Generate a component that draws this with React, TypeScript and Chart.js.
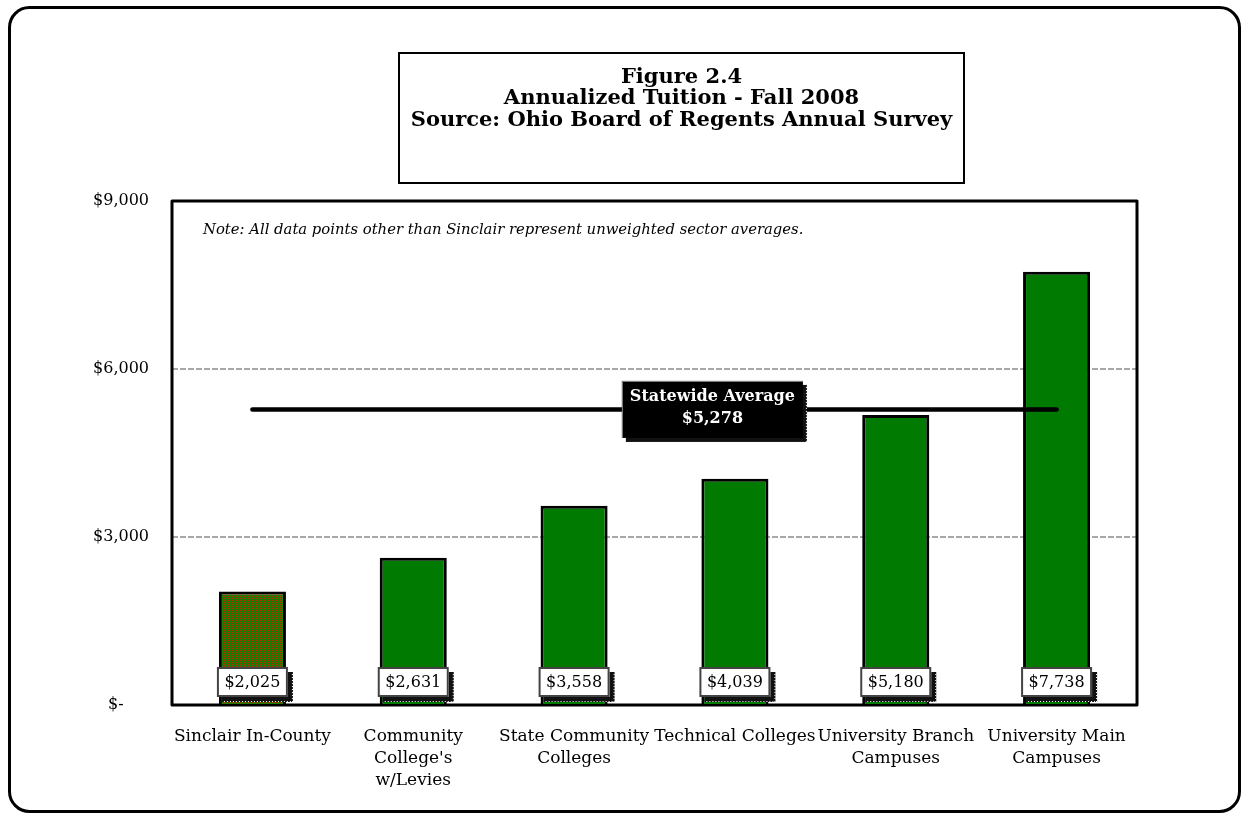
import React, { useEffect, useRef } from "react";
import { Chart, registerables } from "chart.js";

Chart.register(...registerables);

const categories: string[][] = [
  ["Sinclair In-County"],
  ["Community", "College's", "w/Levies"],
  ["State Community", "Colleges"],
  ["Technical Colleges"],
  ["University Branch", "Campuses"],
  ["University Main", "Campuses"],
];
const tuition = [2025, 2631, 3558, 4039, 5180, 7738];
const statewideAverage = 5278;
const yMin = 0;
const yMax = 9000;
const yStep = 3000;
const titleLines = [
  "Figure 2.4",
  "Annualized Tuition - Fall 2008",
  "Source: Ohio Board of Regents Annual Survey",
];
const noteText =
  "Note: All data points other than Sinclair represent unweighted sector averages.";
const averageLabel = ["Statewide Average", "$5,278"];

const SERIF = '"DejaVu Serif", "Liberation Serif", serif';

function fmt(v: number): string {
  if (v === 0) return "$-" + "\u00a0".repeat(5);
  return "$" + v.toLocaleString("en-US");
}

function makePattern(): CanvasPattern | string {
  const c = document.createElement("canvas");
  c.width = 4;
  c.height = 4;
  const g = c.getContext("2d");
  if (!g) return "#c82000";
  g.fillStyle = "#c82000";
  g.fillRect(0, 0, 4, 4);
  g.fillStyle = "#1f7a00";
  g.fillRect(2, 0, 1, 4);
  g.fillRect(0, 1, 1, 1);
  g.fillRect(0, 3, 1, 1);
  return g.createPattern(c, "repeat") || "#c82000";
}

const decor = {
  id: "decor",
  beforeDraw(chart: any) {
    const ctx: CanvasRenderingContext2D = chart.ctx;
    const { width, height } = chart;
    ctx.save();
    ctx.fillStyle = "#fff";
    ctx.fillRect(0, 0, width, height);
    // outer rounded frame
    ctx.strokeStyle = "#000";
    ctx.lineWidth = 3;
    ctx.beginPath();
    (ctx as any).roundRect(9.5, 7.5, width - 19, height - 12, 20);
    ctx.stroke();
    // title box
    ctx.lineWidth = 2;
    ctx.strokeRect(399, 53, 565, 130);
    ctx.fillStyle = "#000";
    ctx.font = `bold 21px ${SERIF}`;
    ctx.textAlign = "center";
    ctx.textBaseline = "middle";
    titleLines.forEach((t, i) => ctx.fillText(t, 681.5, 77.5 + i * 21.5));
    ctx.restore();
  },
  beforeDatasetsDraw(chart: any) {
    const ctx: CanvasRenderingContext2D = chart.ctx;
    const a = chart.chartArea;
    ctx.save();
    ctx.strokeStyle = "#000";
    ctx.lineWidth = 3;
    ctx.lineJoin = "round";
    ctx.strokeRect(a.left, a.top, a.right - a.left, a.bottom - a.top);
    ctx.fillStyle = "#000";
    ctx.font = `italic 14.8px ${SERIF}`;
    ctx.textAlign = "left";
    ctx.textBaseline = "middle";
    ctx.fillText(noteText, a.left + 31, a.top + 29);
    ctx.restore();
  },
  afterDatasetsDraw(chart: any) {
    const ctx: CanvasRenderingContext2D = chart.ctx;
    const a = chart.chartArea;
    const yScale = chart.scales.y;
    ctx.save();
    // statewide average label
    const cx = a.left + 0.56 * (a.right - a.left);
    const cy = yScale.getPixelForValue(statewideAverage);
    const bw = 181;
    const bh = 57;
    ctx.fillStyle = "#111";
    ctx.fillRect(cx - bw / 2 + 4, cy - bh / 2 + 4, bw, bh);
    ctx.strokeStyle = "#fff";
    ctx.lineWidth = 1;
    ctx.setLineDash([1, 2]);
    ctx.beginPath();
    ctx.moveTo(cx + bw / 2 + 3.5, cy - bh / 2 + 6);
    ctx.lineTo(cx + bw / 2 + 3.5, cy + bh / 2 + 4);
    ctx.stroke();
    ctx.setLineDash([]);
    ctx.fillStyle = "#000";
    ctx.fillRect(cx - bw / 2, cy - bh / 2, bw, bh);
    ctx.strokeStyle = "#888";
    ctx.lineWidth = 1;
    ctx.beginPath();
    ctx.moveTo(cx - bw / 2 + 0.5, cy + bh / 2);
    ctx.lineTo(cx - bw / 2 + 0.5, cy - bh / 2 + 0.5);
    ctx.lineTo(cx + bw / 2, cy - bh / 2 + 0.5);
    ctx.stroke();
    ctx.fillStyle = "#fff";
    ctx.font = `bold 16px ${SERIF}`;
    ctx.textAlign = "center";
    ctx.textBaseline = "middle";
    ctx.fillText(averageLabel[0], cx, cy - 13);
    ctx.fillText(averageLabel[1], cx, cy + 9);

    // value labels
    const meta = chart.getDatasetMeta(1);
    const y0 = yScale.getPixelForValue(0);
    const lw = 71;
    const lh = 30;
    const top = y0 - 38;
    meta.data.forEach((bar: any, i: number) => {
      const x = bar.x;
      const left = x - lw / 2;
      ctx.fillStyle = "#111";
      ctx.fillRect(left + 5, top + 5, lw, lh);
      ctx.strokeStyle = "#fff";
      ctx.lineWidth = 1;
      ctx.setLineDash([1, 2]);
      ctx.beginPath();
      ctx.moveTo(left + lw + 4.5, top + 7);
      ctx.lineTo(left + lw + 4.5, top + lh + 5);
      ctx.moveTo(left + 7, top + lh + 4.5);
      ctx.lineTo(left + lw + 5, top + lh + 4.5);
      ctx.stroke();
      ctx.setLineDash([]);
      ctx.fillStyle = "#fff";
      ctx.fillRect(left, top, lw, lh);
      ctx.strokeStyle = "#444";
      ctx.lineWidth = 2;
      ctx.strokeRect(left + 1, top + 1, lw - 2, lh - 2);
      ctx.fillStyle = "#000";
      ctx.font = `16px ${SERIF}`;
      ctx.textAlign = "center";
      ctx.textBaseline = "middle";
      ctx.fillText(fmt(tuition[i]).replace(/\u00a0/g, ""), x, top + lh / 2 + 1);
    });
    ctx.restore();
  },
};

export default function App() {
  const ref = useRef<HTMLCanvasElement>(null);
  useEffect(() => {
    const canvas = ref.current;
    if (!canvas) return;
    const pattern = makePattern();
    const chart = new Chart(canvas, {
      type: "bar",
      data: {
        labels: categories as any,
        datasets: [
          {
            type: "line",
            label: "Statewide Average",
            data: categories.map(() => statewideAverage),
            borderColor: "#000",
            borderWidth: 4.5,
            pointRadius: 0,
            borderCapStyle: "round",
            order: 0,
          } as any,
          {
            type: "bar",
            label: "Annualized Tuition",
            data: tuition,
            backgroundColor: tuition.map((_, i) => (i === 0 ? pattern : "#007a00")),
            borderColor: "#000",
            borderWidth: 3,
            barPercentage: 0.417,
            categoryPercentage: 1,
            order: 1,
          } as any,
        ],
      },
      options: {
        responsive: false,
        animation: false,
        devicePixelRatio: 1,
        layout: { padding: { left: 40, top: 201, right: 112, bottom: 0 } },
        plugins: {
          legend: { display: false },
          tooltip: { enabled: false },
          title: { display: false },
        },
        scales: {
          x: {
            offset: true,
            grid: { display: false, drawTicks: false },
            border: { display: false },
            ticks: {
              color: "#000",
              font: { family: SERIF, size: 17, lineHeight: 22 / 17 },
              padding: 21,
              maxRotation: 0,
              autoSkip: false,
            },
            afterFit: (s: any) => {
              s.height = 111;
            },
          },
          y: {
            min: yMin,
            max: yMax,
            grid: {
              color: (c: any) =>
                c.tick && c.tick.value > yMin && c.tick.value < yMax ? "#a8a8a8" : "rgba(0,0,0,0)",
              lineWidth: 2,
              drawTicks: false,
            },
            border: { display: false, dash: [6, 2] },
            ticks: {
              stepSize: yStep,
              color: "#000",
              font: { family: SERIF, size: 16 },
              padding: 23,
              callback: (v: any) => fmt(Number(v)),
            },
            afterFit: (s: any) => {
              s.width = 132;
            },
          },
        },
      } as any,
      plugins: [decor],
    });
    return () => chart.destroy();
  }, []);
  return (
    <div style={{ position: "fixed", left: 0, top: 0, width: 1249, height: 816 }}>
      <canvas ref={ref} width={1249} height={816} style={{ display: "block", width: 1249, height: 816 }} />
    </div>
  );
}
